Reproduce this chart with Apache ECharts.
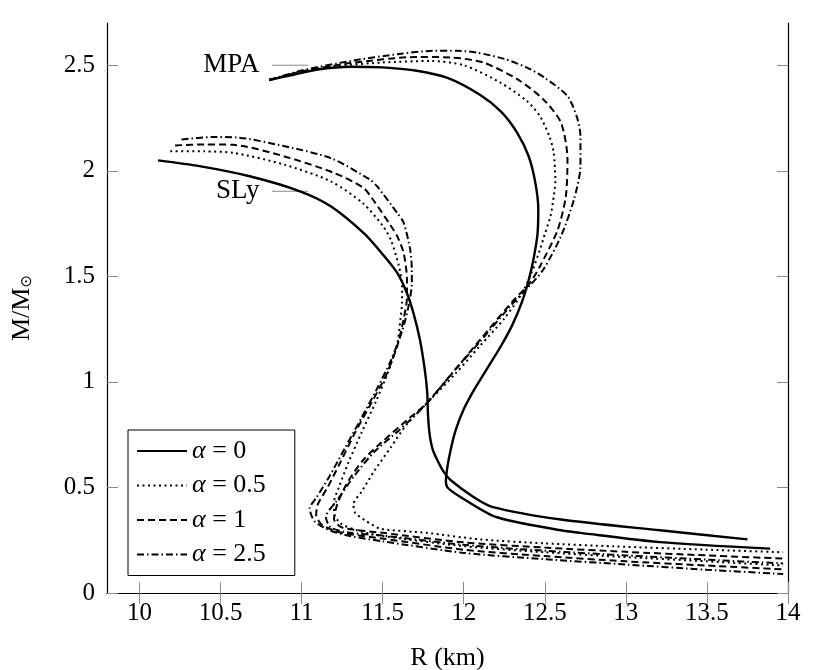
<!DOCTYPE html>
<html>
<head>
<meta charset="utf-8">
<script src="https://cdn.jsdelivr.net/npm/echarts@6/dist/echarts.min.js"></script>
<style>
  html, body { margin: 0; padding: 0; background: #fff; }
  #chart { width: 813px; height: 670px; }
</style>
</head>
<body>
<div id="chart"></div>
<script>
// tick positions
const xTicks = [10, 10.5, 11, 11.5, 12, 12.5, 13, 13.5, 14];
const yTicks = [0, 0.5, 1, 1.5, 2, 2.5];

const alphaNames = ['α = 0', 'α = 0.5', 'α = 1', 'α = 2.5'];

// SLy curves, [R (km), M/Msun]
const slyAlpha0 = [
  [10.115, 2.049], [10.37, 2.022], [10.68, 1.974], [10.99, 1.903], [11.18, 1.832],
  [11.39, 1.70], [11.505, 1.60], [11.59, 1.516], [11.65, 1.42], [11.69, 1.326],
  [11.73, 1.2], [11.76, 1.057], [11.775, 0.95], [11.78, 0.84], [11.79, 0.75],
  [11.81, 0.677], [11.85, 0.61], [11.88, 0.57], [11.92, 0.534], [12.06, 0.455],
  [12.18, 0.407], [12.6, 0.348], [13.21, 0.297], [13.75, 0.254]
];
const slyAlpha05 = [
  [10.19, 2.093], [10.4, 2.092], [10.58, 2.085], [10.89, 2.03], [11.18, 1.95],
  [11.38, 1.845], [11.5, 1.74], [11.55, 1.674], [11.6, 1.55], [11.62, 1.45],
  [11.62, 1.38], [11.61, 1.3], [11.59, 1.18], [11.53, 1.04], [11.46, 0.91],
  [11.37, 0.76], [11.29, 0.62], [11.23, 0.5], [11.2, 0.43], [11.2, 0.38],
  [11.24, 0.33], [11.35, 0.295], [11.5, 0.27], [12, 0.222], [12.5, 0.193],
  [13, 0.17], [13.5, 0.15], [13.97, 0.13]
];
const slyAlpha1 = [
  [10.22, 2.12], [10.4, 2.125], [10.58, 2.123], [10.89, 2.069], [11.2, 1.99],
  [11.38, 1.92], [11.44, 1.864], [11.55, 1.74], [11.59, 1.69], [11.63, 1.61],
  [11.65, 1.484], [11.65, 1.4], [11.63, 1.3], [11.59, 1.17], [11.52, 1.03],
  [11.43, 0.9], [11.33, 0.76], [11.24, 0.62], [11.16, 0.5], [11.1, 0.42],
  [11.09, 0.37], [11.13, 0.32], [11.25, 0.285], [11.5, 0.258], [12, 0.205],
  [12.5, 0.175], [13, 0.15], [13.5, 0.13], [13.97, 0.112]
];
const slyAlpha25 = [
  [10.26, 2.148], [10.45, 2.16], [10.6, 2.158], [10.89, 2.117], [11.18, 2.06],
  [11.42, 1.959], [11.465, 1.927], [11.59, 1.8], [11.63, 1.753], [11.67, 1.626],
  [11.68, 1.53], [11.68, 1.468], [11.66, 1.36], [11.62, 1.24], [11.55, 1.1],
  [11.46, 0.96], [11.37, 0.83], [11.27, 0.69], [11.17, 0.55], [11.09, 0.45],
  [11.05, 0.40], [11.08, 0.34], [11.18, 0.295], [11.3, 0.27], [11.5, 0.245],
  [12, 0.19], [12.5, 0.16], [13, 0.135], [13.5, 0.11], [13.97, 0.09]
];

// MPA curves, [R (km), M/Msun]
const mpaAlpha0 = [
  [10.80, 2.43], [10.95, 2.455], [11.1, 2.48], [11.3, 2.493], [11.5, 2.49],
  [11.7, 2.475], [11.9, 2.44], [12.1, 2.36], [12.23, 2.28], [12.33, 2.18],
  [12.4, 2.07], [12.44, 1.95], [12.46, 1.82], [12.455, 1.7], [12.43, 1.58],
  [12.40, 1.48], [12.36, 1.38], [12.3, 1.27], [12.23, 1.17], [12.15, 1.07],
  [12.07, 0.97], [12.0, 0.87], [11.95, 0.77], [11.92, 0.68], [11.9, 0.6],
  [11.89, 0.53], [11.9, 0.5], [11.98, 0.455], [12.2, 0.36], [12.6, 0.297],
  [12.72, 0.285], [13.21, 0.241], [13.89, 0.21]
];
const mpaAlpha05 = [
  [10.80, 2.43], [11.0, 2.47], [11.2, 2.495], [11.5, 2.513], [11.8, 2.52],
  [12.0, 2.5], [12.226, 2.418], [12.39, 2.33], [12.47, 2.259], [12.53, 2.16],
  [12.555, 2.085], [12.565, 1.95], [12.55, 1.85], [12.535, 1.784], [12.5, 1.7],
  [12.47, 1.626], [12.42, 1.52], [12.36, 1.42], [12.25, 1.3], [12.1, 1.17],
  [11.95, 1.04], [11.8, 0.92], [11.65, 0.8], [11.55, 0.69], [11.45, 0.58],
  [11.37, 0.48], [11.32, 0.42], [11.33, 0.38], [11.4, 0.34], [11.485, 0.305],
  [11.77, 0.285], [12.1, 0.254], [12.5, 0.235], [12.925, 0.221], [13.5, 0.205],
  [13.97, 0.193]
];
const mpaAlpha1 = [
  [10.80, 2.43], [11.0, 2.47], [11.3, 2.51], [11.71, 2.539], [11.917, 2.537],
  [12.12, 2.513], [12.33, 2.434], [12.49, 2.339], [12.6, 2.228], [12.64, 2.054],
  [12.63, 1.879], [12.58, 1.721], [12.47, 1.547], [12.4, 1.46], [12.31, 1.389],
  [12.1, 1.199], [11.98, 1.088], [11.77, 0.898], [11.65, 0.819], [11.485, 0.708],
  [11.38, 0.63], [11.28, 0.52], [11.22, 0.42], [11.2, 0.35], [11.25, 0.31],
  [11.5, 0.285], [12, 0.24], [12.5, 0.215], [13, 0.195], [13.5, 0.178],
  [13.97, 0.163]
];
const mpaAlpha25 = [
  [10.80, 2.43], [11.0, 2.475], [11.3, 2.52], [11.6, 2.553], [11.81, 2.568],
  [11.96, 2.568], [12.08, 2.56], [12.25, 2.53], [12.39, 2.489], [12.5, 2.44],
  [12.64, 2.354], [12.7, 2.25], [12.72, 2.164], [12.72, 2.022], [12.68, 1.864],
  [12.6, 1.69], [12.49, 1.531], [12.4, 1.45], [12.3, 1.37], [12.1, 1.19],
  [11.95, 1.06], [11.75, 0.88], [11.6, 0.77], [11.45, 0.67], [11.33, 0.56],
  [11.22, 0.44], [11.15, 0.36], [11.18, 0.31], [11.3, 0.285], [11.5, 0.272],
  [12, 0.228], [12.5, 0.2], [13, 0.178], [13.5, 0.158], [13.97, 0.14]
];

// EoS tags and their leader lines
const tagNames = ['MPA', 'SLy'];
const tagPoints = [[10.817, 2.5], [10.817, 1.903]];
const leaderEnds = [[11.04, 2.5], [11.04, 1.903]];

const serif = '"Liberation Serif", "DejaVu Serif", serif';

const lineTypes = ['solid', [2, 3.5], [7, 4], [7, 3, 1.5, 3]];
const lineWidths = [2.4, 2, 2, 2];

function curve(idx, data) {
  return {
    type: 'line',
    name: alphaNames[idx],
    data: data,
    symbol: 'none',
    smooth: 0.25,
    lineStyle: { color: '#000', width: lineWidths[idx], type: lineTypes[idx], cap: 'butt' },
    itemStyle: { color: '#000' },
    silent: true,
    z: 3
  };
}

const series = [
  curve(0, slyAlpha0), curve(1, slyAlpha05), curve(2, slyAlpha1), curve(3, slyAlpha25),
  curve(0, mpaAlpha0), curve(1, mpaAlpha05), curve(2, mpaAlpha1), curve(3, mpaAlpha25)
];

tagPoints.forEach((p, i) => {
  series.push({
    type: 'line',
    data: [p, leaderEnds[i]],
    symbol: 'none',
    lineStyle: { color: '#8a8a8a', width: 1 },
    silent: true,
    z: 2
  });
});

series.push({
  type: 'scatter',
  data: tagNames.map((n, i) => ({ name: n, value: tagPoints[i] })),
  symbolSize: 1,
  itemStyle: { color: '#fff', opacity: 1 },
  label: {
    show: true,
    position: 'left',
    distance: 12,
    formatter: '{b}',
    fontFamily: serif,
    fontSize: 27,
    color: '#000',
    opacity: 1
  },
  silent: true,
  z: 1
});

const chart = echarts.init(document.getElementById('chart'), null, { renderer: 'canvas' });

const tickStyle = { show: true, inside: true, length: 11, lineStyle: { color: '#8a8a8a', width: 1 } };

chart.setOption({
  animation: false,
  backgroundColor: '#fff',
  grid: { left: 107, right: 25, top: 23, bottom: 77, show: false, containLabel: false, outerBoundsMode: 'none' },
  legend: {
    orient: 'vertical',
    left: 128,
    top: 430,
    data: alphaNames,
    itemWidth: 50,
    itemHeight: 14,
    itemGap: 8.5,
    padding: [8, 29, 8, 8],
    borderColor: '#000',
    borderWidth: 1,
    backgroundColor: '#fff',
    selectedMode: false,
    itemStyle: { opacity: 0 },
    formatter: name => '{a|α}' + name.slice(1),
    textStyle: {
      fontFamily: serif,
      fontSize: 26,
      lineHeight: 26,
      color: '#000',
      rich: {
        a: { fontFamily: serif, fontSize: 26, lineHeight: 26, fontStyle: 'italic', color: '#000' }
      }
    }
  },
  xAxis: [
    {
      type: 'value',
      min: 9.8,
      max: 14,
      name: 'R (km)',
      nameLocation: 'middle',
      nameGap: 52,
      nameTextStyle: { fontFamily: serif, fontSize: 26, color: '#000' },
      axisLine: { show: true, lineStyle: { color: '#000', width: 1.2 } },
      axisTick: Object.assign({ customValues: xTicks }, tickStyle),
      axisLabel: { customValues: xTicks, fontFamily: serif, fontSize: 25, color: '#000', margin: 8 },
      splitLine: { show: false }
    },
    {
      type: 'value',
      position: 'top',
      min: 9.8,
      max: 14,
      axisLine: { show: true, lineStyle: { color: '#000', width: 1.2 } },
      axisTick: Object.assign({ customValues: xTicks }, tickStyle),
      axisLabel: { show: false },
      splitLine: { show: false }
    }
  ],
  yAxis: [
    {
      type: 'value',
      min: 0,
      max: 2.7,
      name: '{m|M/M}{s|⊙}',
      nameLocation: 'middle',
      nameGap: 72,
      nameRotate: 90,
      nameTextStyle: {
        fontFamily: serif,
        fontSize: 26,
        color: '#000',
        rich: {
          m: { fontFamily: serif, fontSize: 26, color: '#000' },
          s: { fontFamily: '"DejaVu Sans", sans-serif', fontSize: 15, color: '#000', verticalAlign: 'bottom' }
        }
      },
      axisLine: { show: true, lineStyle: { color: '#000', width: 1.2 } },
      axisTick: Object.assign({ customValues: yTicks }, tickStyle),
      axisLabel: { customValues: yTicks, fontFamily: serif, fontSize: 25, color: '#000', margin: 12 },
      splitLine: { show: false }
    },
    {
      type: 'value',
      position: 'right',
      min: 0,
      max: 2.7,
      axisLine: { show: true, lineStyle: { color: '#000', width: 1.2 } },
      axisTick: Object.assign({ customValues: yTicks }, tickStyle),
      axisLabel: { show: false },
      splitLine: { show: false }
    }
  ],
  series: series
});
</script>
</body>
</html>
